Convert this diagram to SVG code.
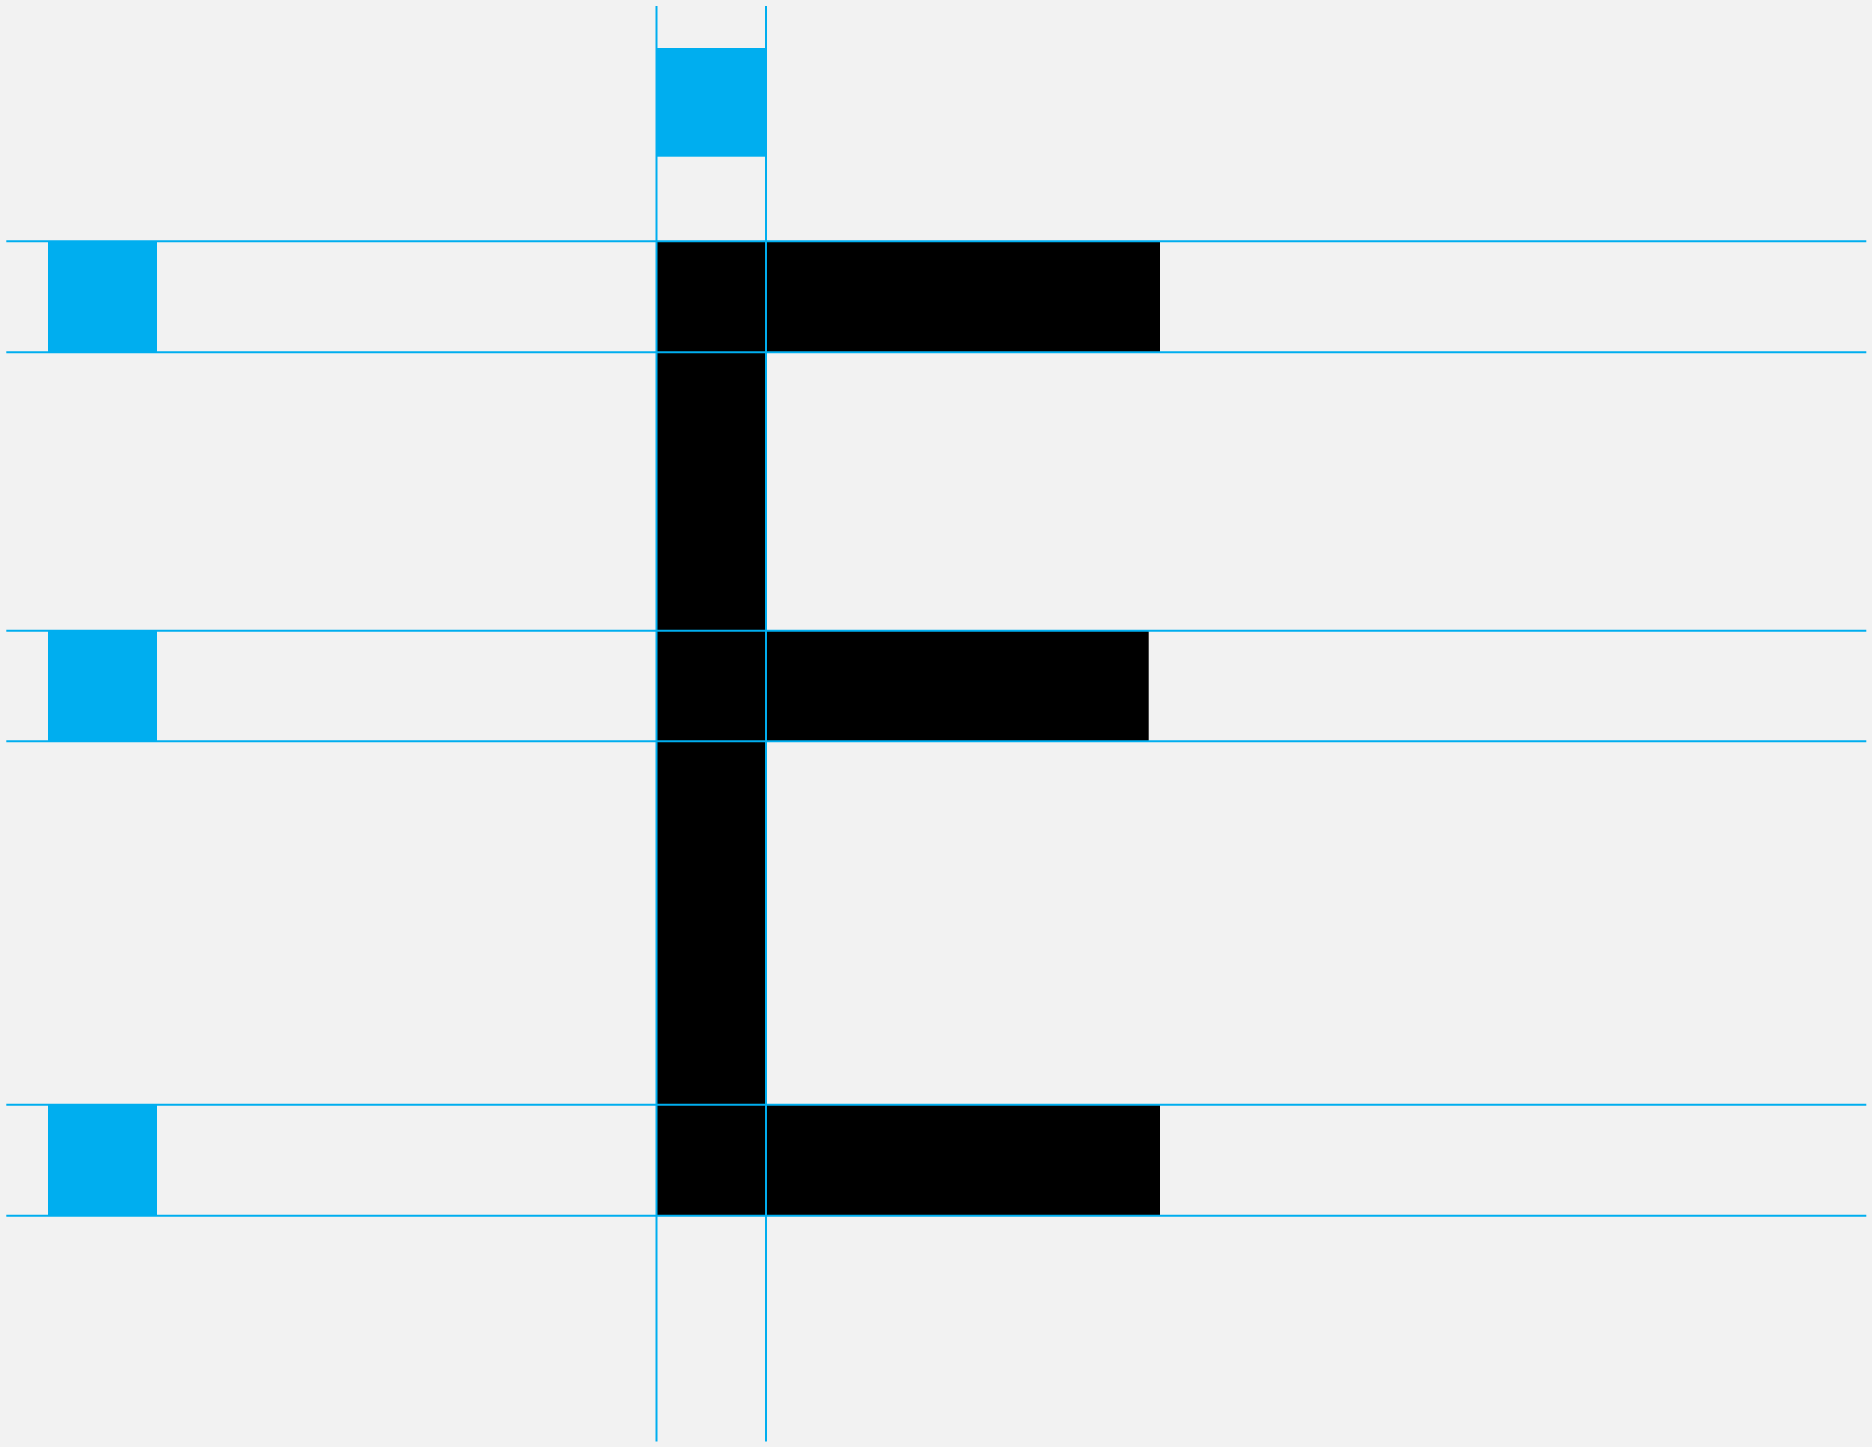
<svg xmlns="http://www.w3.org/2000/svg" width="1872" height="1447" viewBox="0 0 1872 1447">
<style>
.bg{fill:#F2F2F2}
.ink{fill:#000000}
.mark{fill:#00AEEF}
.guide{stroke:#00AEEF;stroke-width:2;fill:none}
</style>
<rect class="bg" x="0" y="0" width="1872" height="1447"/>
<g id="letter">
<rect class="ink" x="656.5" y="241.3" width="109.5" height="974.4"/>
<rect class="ink" x="656.5" y="241.3" width="503.5" height="111"/>
<rect class="ink" x="656.5" y="630.7" width="492.2" height="110.6"/>
<rect class="ink" x="656.5" y="1104.7" width="503.5" height="111"/>
</g>
<g id="marks">
<rect class="mark" x="48" y="241.3" width="109" height="111"/>
<rect class="mark" x="48" y="630.7" width="109" height="110.6"/>
<rect class="mark" x="48" y="1104.7" width="109" height="111"/>
<rect class="mark" x="656.5" y="48" width="109.5" height="108.7"/>
</g>
<g id="guides">
<line class="guide" x1="656.5" y1="6" x2="656.5" y2="1441.5"/>
<line class="guide" x1="766" y1="6" x2="766" y2="1441.5"/>
<line class="guide" x1="6.3" y1="241.3" x2="1866.3" y2="241.3"/>
<line class="guide" x1="6.3" y1="352.3" x2="1866.3" y2="352.3"/>
<line class="guide" x1="6.3" y1="630.7" x2="1866.3" y2="630.7"/>
<line class="guide" x1="6.3" y1="741.3" x2="1866.3" y2="741.3"/>
<line class="guide" x1="6.3" y1="1104.7" x2="1866.3" y2="1104.7"/>
<line class="guide" x1="6.3" y1="1215.7" x2="1866.3" y2="1215.7"/>
</g>
</svg>
